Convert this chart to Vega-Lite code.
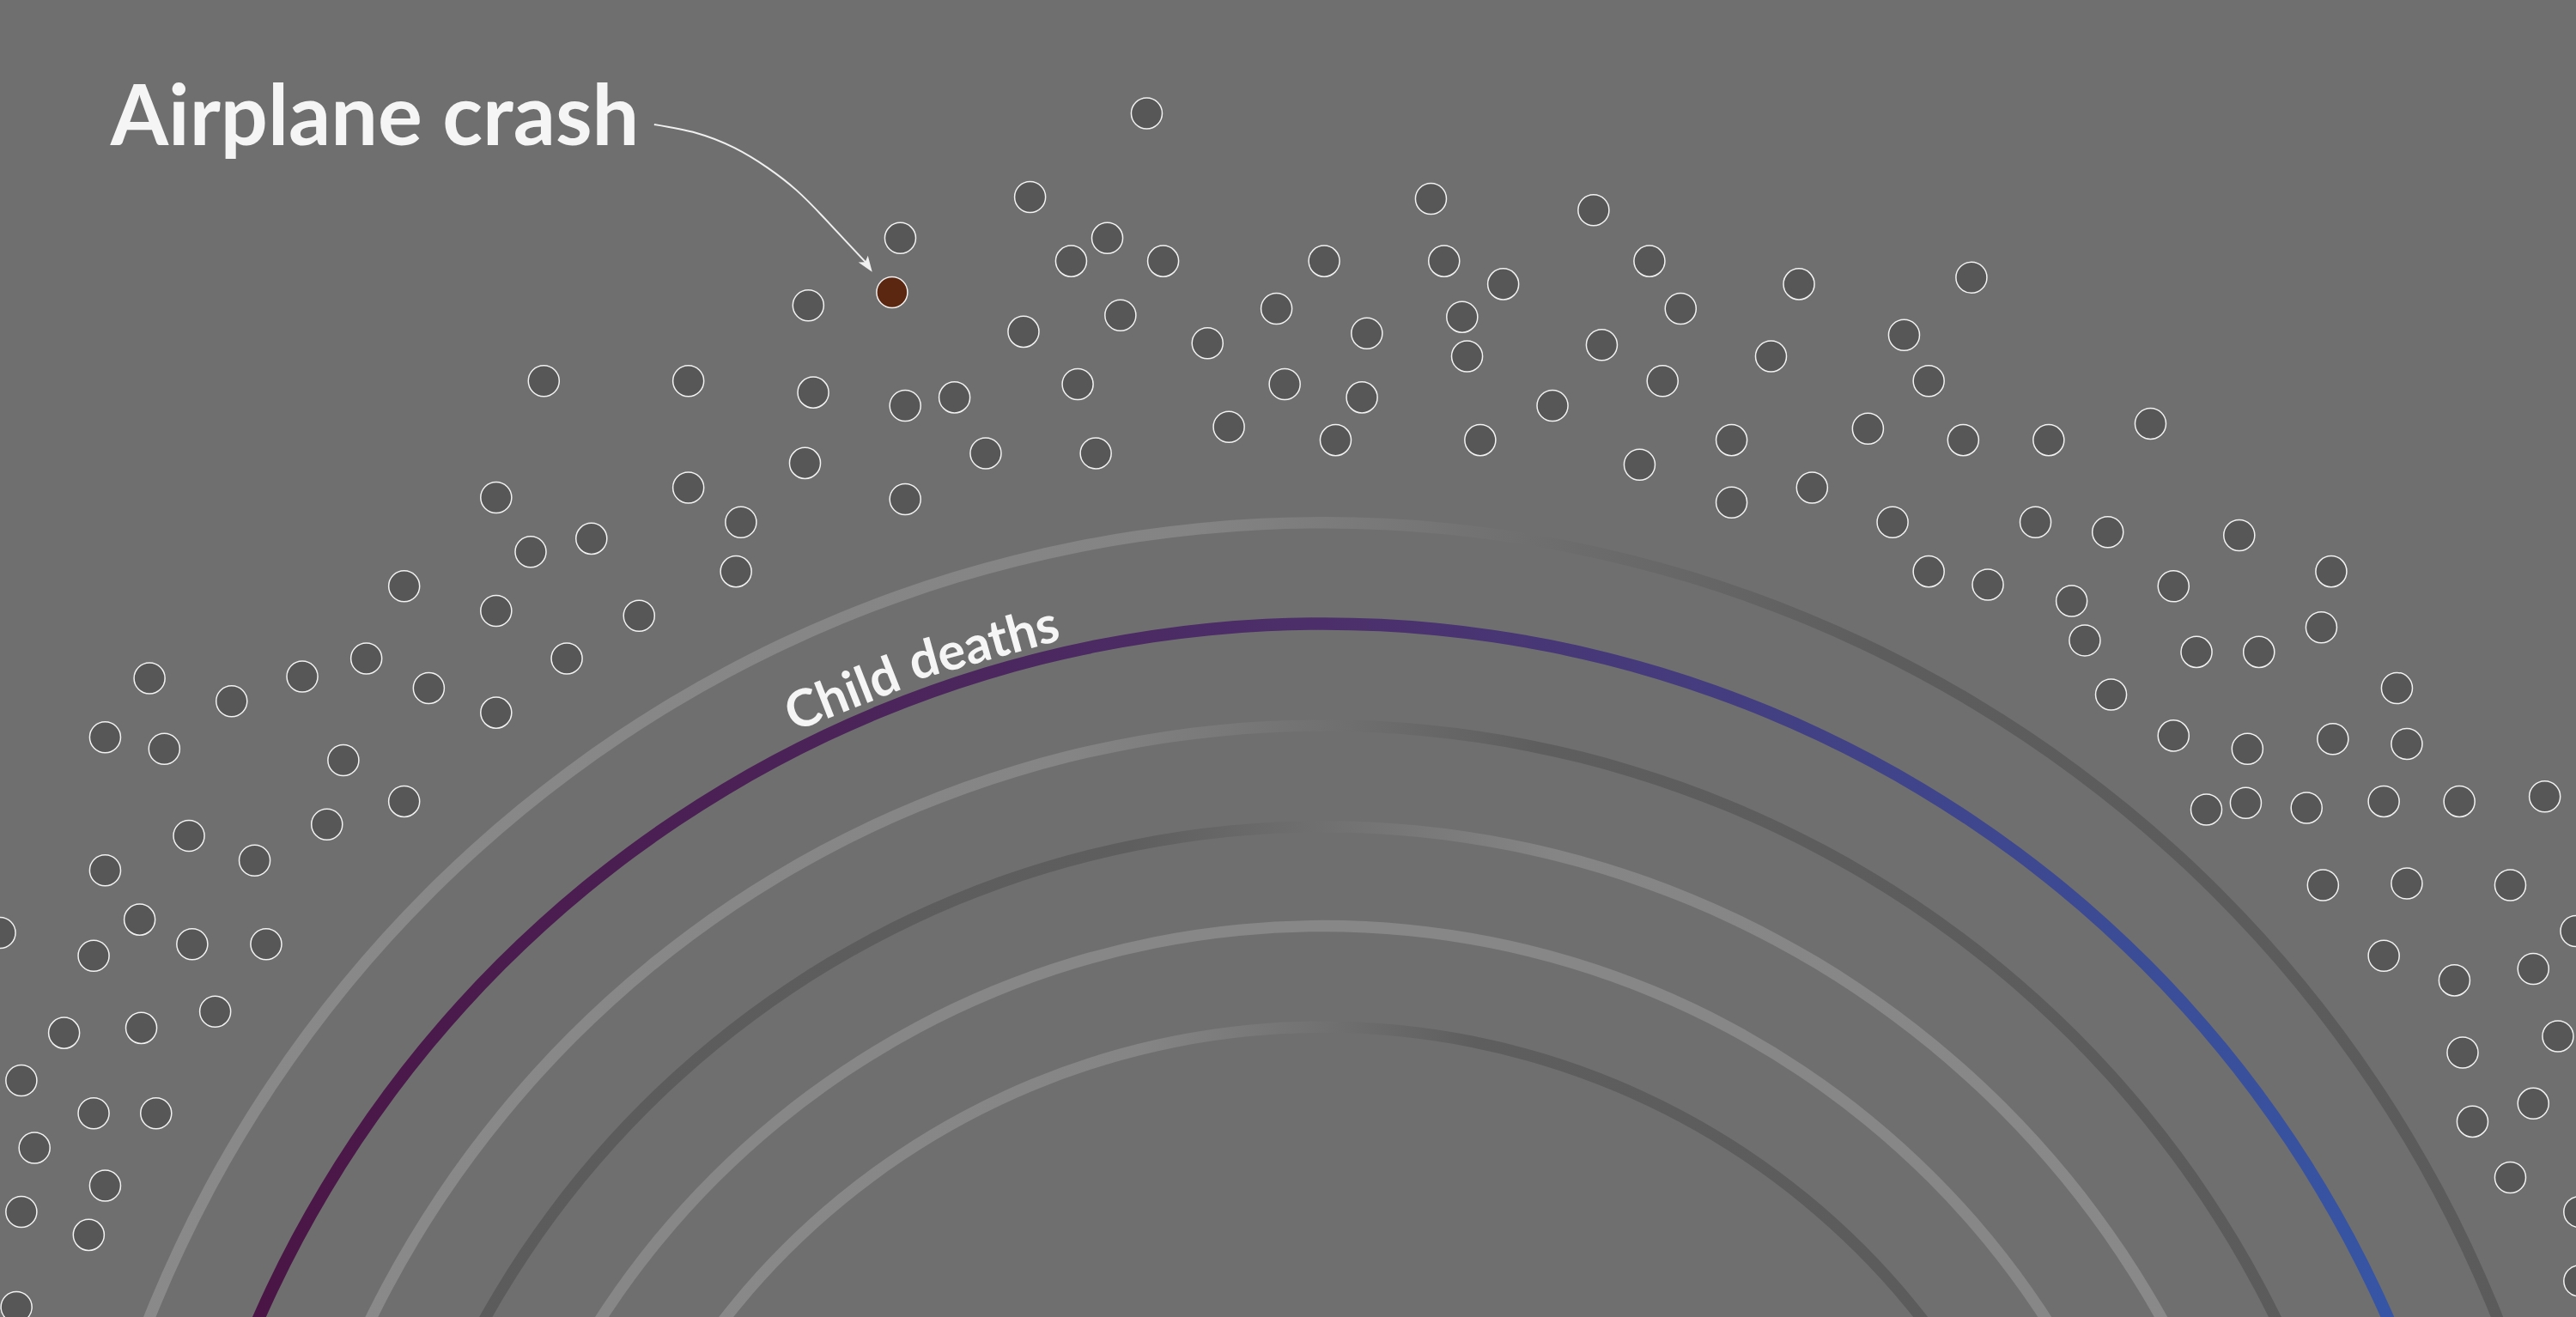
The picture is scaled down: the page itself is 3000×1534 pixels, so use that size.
{
  "$schema": "https://vega.github.io/schema/vega-lite/v6.json",
  "width": 3000,
  "height": 1534,
  "autosize": "none",
  "padding": 0,
  "background": "#6f6f6f",
  "config": {"view": {"stroke": null}},
  "datasets": {
    "rings": [
      {"ring": "r1", "cx": 805.5, "cy": 1088, "r_in": 766, "r_out": 773},
      {"ring": "r2", "cx": 805.5, "cy": 1088, "r_in": 704.2, "r_out": 711.8},
      {"ring": "r3", "cx": 805.5, "cy": 1088, "r_in": 642.5, "r_out": 649.5},
      {"ring": "r4", "cx": 805.5, "cy": 1088, "r_in": 581, "r_out": 588},
      {"ring": "r5", "cx": 805.5, "cy": 1088, "r_in": 520.5, "r_out": 527.5},
      {"ring": "r6", "cx": 805.5, "cy": 1088, "r_in": 459, "r_out": 466}
    ],
    "events": [
      {"x":698,"y":69},{"x":627,"y":120},{"x":548,"y":145},{"x":674,"y":145},{"x":652,"y":159},{"x":708,"y":159},{"x":806,"y":159},{"x":871,"y":121},{"x":970,"y":128},{"x":879,"y":159},{"x":915,"y":173},{"x":1004,"y":159},{"x":1095,"y":173},{"x":1200,"y":169},{"x":492,"y":186},{"x":623,"y":202},{"x":682,"y":192},{"x":735,"y":209},{"x":777,"y":188},{"x":832,"y":203},{"x":890,"y":193},{"x":893,"y":217},{"x":1023,"y":188},{"x":975,"y":210},{"x":1078,"y":217},{"x":1159,"y":204},{"x":1174,"y":232},{"x":1012,"y":232},{"x":331,"y":232},{"x":419,"y":232},{"x":495,"y":239},{"x":551,"y":247},{"x":581,"y":242},{"x":656,"y":234},{"x":782,"y":234},{"x":829,"y":242},{"x":945,"y":247},{"x":748,"y":260},{"x":813,"y":268},{"x":901,"y":268},{"x":998,"y":283},{"x":1054,"y":268},{"x":1137,"y":261},{"x":1195,"y":268},{"x":1247,"y":268},{"x":1309,"y":258},{"x":600,"y":276},{"x":667,"y":276},{"x":490,"y":282},{"x":302,"y":303},{"x":419,"y":297},{"x":451,"y":318},{"x":551,"y":304},{"x":1054,"y":306},{"x":1103,"y":297},{"x":1152,"y":318},{"x":1239,"y":318},{"x":1283,"y":324},{"x":1363,"y":326},{"x":1174,"y":348},{"x":1210,"y":356},{"x":1261,"y":366},{"x":1323,"y":357},{"x":1419,"y":348},{"x":1269,"y":390},{"x":1413,"y":382},{"x":1337,"y":397},{"x":1375,"y":397},{"x":1285,"y":423},{"x":1459,"y":419},{"x":1323,"y":448},{"x":1368,"y":456},{"x":1420,"y":450},{"x":1465,"y":453},{"x":1343,"y":493},{"x":1367,"y":489},{"x":1404,"y":492},{"x":1451,"y":488},{"x":1497,"y":488},{"x":1549,"y":485},{"x":1414,"y":539},{"x":1465,"y":538},{"x":1528,"y":539},{"x":1568,"y":567},{"x":1451,"y":582},{"x":1494,"y":597},{"x":1542,"y":590},{"x":1557,"y":631},{"x":1499,"y":641},{"x":1542,"y":672},{"x":1505,"y":683},{"x":1528,"y":717},{"x":1570,"y":738},{"x":1570,"y":780},{"x":360,"y":328},{"x":323,"y":336},{"x":448,"y":348},{"x":246,"y":357},{"x":302,"y":372},{"x":389,"y":375},{"x":223,"y":401},{"x":345,"y":401},{"x":91,"y":413},{"x":141,"y":427},{"x":184,"y":412},{"x":261,"y":419},{"x":302,"y":434},{"x":64,"y":449},{"x":100,"y":456},{"x":209,"y":463},{"x":246,"y":488},{"x":199,"y":502},{"x":115,"y":509},{"x":155,"y":524},{"x":64,"y":530},{"x":0,"y":568},{"x":85,"y":560},{"x":57,"y":582},{"x":117,"y":575},{"x":162,"y":575},{"x":39,"y":629},{"x":86,"y":626},{"x":131,"y":616},{"x":13,"y":658},{"x":57,"y":678},{"x":95,"y":678},{"x":21,"y":699},{"x":64,"y":722},{"x":13,"y":738},{"x":54,"y":752},{"x":10,"y":796}
    ],
    "highlight": [{"x":543,"y":178,"kind":"airplane"}],
    "arrow": [
      {"x":398.2,"y":75.8},{"x":424,"y":81},{"x":447,"y":90},{"x":467,"y":102},{"x":485,"y":116},{"x":501,"y":132},{"x":515,"y":147},{"x":527.5,"y":160.3}
    ],
    "arrowhead": [{"x":530.9,"y":165.6,"ang":145}],
    "title": [{"text":"Airplane crash","x":67.3,"y":88.5}],
    "ringlabel": [
      {"text":"Child","x":516.5,"y":432.5,"ang":-21.5},
      {"text":"deaths","x":601.5,"y":402,"ang":-15.5}
    ]
  },
  "layer": [
    {
      "data": {"name": "rings"},
      "transform": [{"filter": "datum.ring == 'r1'"}],
      "mark": {"type": "arc", "theta": -1.5708, "theta2": 1.5708,
        "fill": {"gradient": "linear", "x1": 0, "y1": 0, "x2": 1, "y2": 0,
          "stops": [{"offset": 0, "color": "#8a8a8a"}, {"offset": 0.45, "color": "#848484"}, {"offset": 0.6, "color": "#6c6c6c"}, {"offset": 0.72, "color": "#5d5d5d"}, {"offset": 1, "color": "#5b5b5b"}]}},
      "encoding": {
        "x": {"field": "cx", "type": "quantitative", "scale": {"domain": [0, 1568], "nice": false, "zero": false}, "axis": null},
        "y": {"field": "cy", "type": "quantitative", "scale": {"domain": [0, 802], "nice": false, "zero": false, "reverse": true}, "axis": null},
        "radius": {"field": "r_in", "type": "quantitative", "scale": {"type": "linear", "domain": [0, 1568], "range": [0, 3000], "nice": false}},
        "radius2": {"field": "r_out"}
      }
    },
    {
      "data": {"name": "rings"},
      "transform": [{"filter": "datum.ring == 'r3' || datum.ring == 'r6'"}],
      "mark": {"type": "arc", "theta": -1.5708, "theta2": 1.5708,
        "fill": {"gradient": "linear", "x1": 0, "y1": 0, "x2": 1, "y2": 0,
          "stops": [{"offset": 0, "color": "#8a8a8a"}, {"offset": 0.38, "color": "#858585"}, {"offset": 0.5, "color": "#717171"}, {"offset": 0.6, "color": "#5e5e5e"}, {"offset": 1, "color": "#5b5b5b"}]}},
      "encoding": {
        "x": {"field": "cx", "type": "quantitative", "scale": {"domain": [0, 1568], "nice": false, "zero": false}, "axis": null},
        "y": {"field": "cy", "type": "quantitative", "scale": {"domain": [0, 802], "nice": false, "zero": false, "reverse": true}, "axis": null},
        "radius": {"field": "r_in", "type": "quantitative", "scale": {"type": "linear", "domain": [0, 1568], "range": [0, 3000], "nice": false}},
        "radius2": {"field": "r_out"}
      }
    },
    {
      "data": {"name": "rings"},
      "transform": [{"filter": "datum.ring == 'r4'"}],
      "mark": {"type": "arc", "theta": -1.5708, "theta2": 1.5708,
        "fill": {"gradient": "linear", "x1": 0, "y1": 0, "x2": 1, "y2": 0,
          "stops": [{"offset": 0, "color": "#5b5b5b"}, {"offset": 0.4, "color": "#5e5e5e"}, {"offset": 0.5, "color": "#707070"}, {"offset": 0.62, "color": "#858585"}, {"offset": 1, "color": "#8a8a8a"}]}},
      "encoding": {
        "x": {"field": "cx", "type": "quantitative", "scale": {"domain": [0, 1568], "nice": false, "zero": false}, "axis": null},
        "y": {"field": "cy", "type": "quantitative", "scale": {"domain": [0, 802], "nice": false, "zero": false, "reverse": true}, "axis": null},
        "radius": {"field": "r_in", "type": "quantitative", "scale": {"type": "linear", "domain": [0, 1568], "range": [0, 3000], "nice": false}},
        "radius2": {"field": "r_out"}
      }
    },
    {
      "data": {"name": "rings"},
      "transform": [{"filter": "datum.ring == 'r5'"}],
      "mark": {"type": "arc", "theta": -1.5708, "theta2": 1.5708, "fill": "#878787"},
      "encoding": {
        "x": {"field": "cx", "type": "quantitative", "scale": {"domain": [0, 1568], "nice": false, "zero": false}, "axis": null},
        "y": {"field": "cy", "type": "quantitative", "scale": {"domain": [0, 802], "nice": false, "zero": false, "reverse": true}, "axis": null},
        "radius": {"field": "r_in", "type": "quantitative", "scale": {"type": "linear", "domain": [0, 1568], "range": [0, 3000], "nice": false}},
        "radius2": {"field": "r_out"}
      }
    },
    {
      "data": {"name": "rings"},
      "transform": [{"filter": "datum.ring == 'r2'"}],
      "mark": {"type": "arc", "theta": -1.5708, "theta2": 1.5708,
        "fill": {"gradient": "linear", "x1": 0, "y1": 0, "x2": 1, "y2": 0,
          "stops": [{"offset": 0, "color": "#4a1342"}, {"offset": 0.5, "color": "#4c2f6a"}, {"offset": 1, "color": "#3459aa"}]}},
      "encoding": {
        "x": {"field": "cx", "type": "quantitative", "scale": {"domain": [0, 1568], "nice": false, "zero": false}, "axis": null},
        "y": {"field": "cy", "type": "quantitative", "scale": {"domain": [0, 802], "nice": false, "zero": false, "reverse": true}, "axis": null},
        "radius": {"field": "r_in", "type": "quantitative", "scale": {"type": "linear", "domain": [0, 1568], "range": [0, 3000], "nice": false}},
        "radius2": {"field": "r_out"}
      }
    },
    {
      "data": {"name": "events"},
      "mark": {"type": "circle", "size": 1300, "fill": "#575757", "fillOpacity": 1, "stroke": "#f2f2f2", "strokeWidth": 1.5, "strokeOpacity": 1, "opacity": 1},
      "encoding": {
        "x": {"field": "x", "type": "quantitative", "scale": {"domain": [0, 1568], "nice": false, "zero": false}, "axis": null},
        "y": {"field": "y", "type": "quantitative", "scale": {"domain": [0, 802], "nice": false, "zero": false, "reverse": true}, "axis": null}
      }
    },
    {
      "data": {"name": "highlight"},
      "mark": {"type": "circle", "size": 1300, "fill": "#5c2711", "fillOpacity": 1, "stroke": "#f2f2f2", "strokeWidth": 1.5, "strokeOpacity": 1, "opacity": 1},
      "encoding": {
        "x": {"field": "x", "type": "quantitative", "scale": {"domain": [0, 1568], "nice": false, "zero": false}, "axis": null},
        "y": {"field": "y", "type": "quantitative", "scale": {"domain": [0, 802], "nice": false, "zero": false, "reverse": true}, "axis": null}
      }
    },
    {
      "data": {"name": "arrow"},
      "mark": {"type": "line", "interpolate": "natural", "stroke": "#f0f0f0", "strokeWidth": 2},
      "encoding": {
        "x": {"field": "x", "type": "quantitative", "scale": {"domain": [0, 1568], "nice": false, "zero": false}, "axis": null},
        "y": {"field": "y", "type": "quantitative", "scale": {"domain": [0, 802], "nice": false, "zero": false, "reverse": true}, "axis": null}
      }
    },
    {
      "data": {"name": "arrowhead"},
      "mark": {"type": "point", "shape": "M0,0L-0.55,1.5L0,1.15L0.55,1.5Z", "size": 600, "filled": true, "fill": "#f0f0f0", "opacity": 1, "strokeWidth": 0},
      "encoding": {
        "x": {"field": "x", "type": "quantitative", "scale": {"domain": [0, 1568], "nice": false, "zero": false}, "axis": null},
        "y": {"field": "y", "type": "quantitative", "scale": {"domain": [0, 802], "nice": false, "zero": false, "reverse": true}, "axis": null},
        "angle": {"field": "ang", "type": "quantitative", "scale": null}
      }
    },
    {
      "data": {"name": "title"},
      "mark": {"type": "text", "font": "Lato", "fontWeight": "bold", "fontSize": 97, "align": "left", "baseline": "alphabetic", "fill": "#f5f5f5"},
      "encoding": {
        "x": {"field": "x", "type": "quantitative", "scale": {"domain": [0, 1568], "nice": false, "zero": false}, "axis": null},
        "y": {"field": "y", "type": "quantitative", "scale": {"domain": [0, 802], "nice": false, "zero": false, "reverse": true}, "axis": null},
        "text": {"field": "text"}
      }
    },
    {
      "data": {"name": "ringlabel"},
      "mark": {"type": "text", "font": "Lato", "fontWeight": "bold", "fontSize": 60, "align": "center", "baseline": "alphabetic", "fill": "#f5f5f5"},
      "encoding": {
        "x": {"field": "x", "type": "quantitative", "scale": {"domain": [0, 1568], "nice": false, "zero": false}, "axis": null},
        "y": {"field": "y", "type": "quantitative", "scale": {"domain": [0, 802], "nice": false, "zero": false, "reverse": true}, "axis": null},
        "text": {"field": "text"},
        "angle": {"field": "ang", "type": "quantitative", "scale": null}
      }
    }
  ]
}
